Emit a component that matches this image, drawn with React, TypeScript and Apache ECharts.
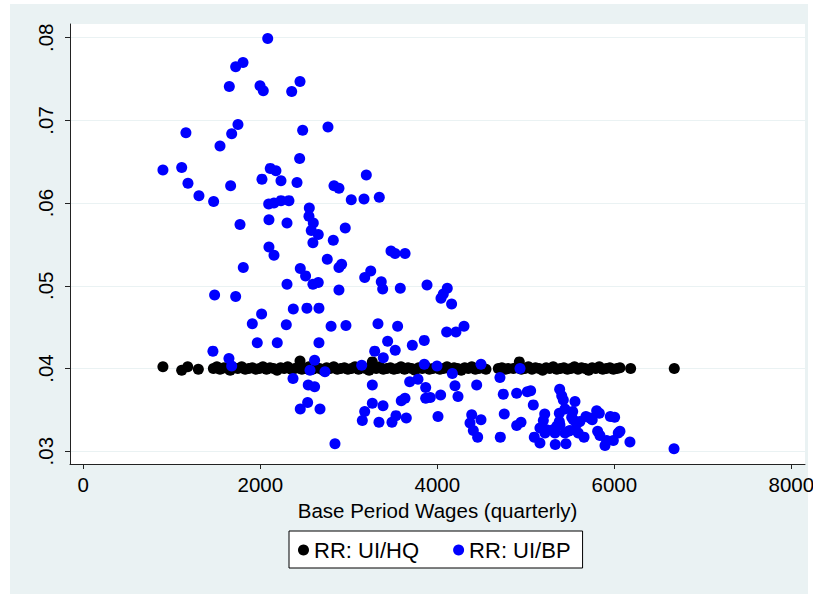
import React, { useEffect, useRef } from "react";
import * as echarts from "echarts";

// Axis ticks and labels
const xTicks = [0, 2000, 4000, 6000, 8000];
const yTicks = [0.03, 0.04, 0.05, 0.06, 0.07, 0.08];
const xTitle = "Base Period Wages (quarterly)";
const seriesNames = ["RR: UI/HQ", "RR: UI/BP"];

// Replacement rate relative to the high quarter: [wages, rate]
const hqPoints: [number, number][] = [
  [900, 0.0402], [1112, 0.0398], [1180, 0.0402], [1300, 0.0399],
  [1470, 0.04], [1510, 0.0402], [1545, 0.0399], [1590, 0.0401], [1630, 0.04], [1660, 0.0398],
  [1700, 0.0401], [1745, 0.04], [1790, 0.0402], [1830, 0.0399], [1870, 0.04], [1910, 0.0401],
  [1950, 0.0399], [1990, 0.04], [2030, 0.0402], [2070, 0.0399], [2110, 0.0401], [2150, 0.04],
  [2190, 0.0398], [2230, 0.0401], [2270, 0.04], [2310, 0.0402], [2350, 0.0399], [2390, 0.04],
  [2449, 0.0409], [2430, 0.0401], [2470, 0.0399], [2510, 0.04], [2550, 0.0402], [2590, 0.0399],
  [2630, 0.0401], [2670, 0.04], [2710, 0.0398], [2750, 0.0401], [2790, 0.04], [2830, 0.0402],
  [2870, 0.0399], [2910, 0.04], [2950, 0.0401], [2990, 0.0399], [3030, 0.04], [3070, 0.0402],
  [3110, 0.0399], [3150, 0.0401], [3190, 0.04], [3230, 0.0398], [3266, 0.0408], [3270, 0.0401],
  [3310, 0.04], [3350, 0.0402], [3390, 0.0399], [3430, 0.04], [3470, 0.0401], [3510, 0.0399],
  [3550, 0.04], [3590, 0.0402], [3630, 0.0399], [3670, 0.0401], [3710, 0.04], [3750, 0.0398],
  [3790, 0.0401], [3830, 0.04], [3870, 0.0402], [3910, 0.0399], [3950, 0.04], [3990, 0.0401],
  [4030, 0.0399], [4070, 0.04], [4110, 0.0402], [4150, 0.0399], [4190, 0.0401], [4230, 0.04],
  [4270, 0.0398], [4310, 0.0401], [4350, 0.04], [4390, 0.0402], [4430, 0.0399], [4470, 0.04],
  [4510, 0.0401], [4550, 0.0399],
  [4690, 0.04], [4730, 0.0401], [4770, 0.0399], [4800, 0.04],
  [4860, 0.04], [4900, 0.0401], [4927, 0.0408], [4950, 0.0399], [4990, 0.04], [5030, 0.0402],
  [5070, 0.0399], [5110, 0.0401], [5150, 0.04], [5190, 0.0398], [5230, 0.0401], [5270, 0.04],
  [5310, 0.0402], [5350, 0.0399], [5390, 0.04], [5430, 0.0401], [5470, 0.0399], [5510, 0.04],
  [5550, 0.0402], [5590, 0.0399], [5630, 0.0401], [5670, 0.04], [5710, 0.0398], [5750, 0.0401],
  [5790, 0.04], [5830, 0.0402], [5870, 0.0399], [5910, 0.04], [5950, 0.0401], [5990, 0.0399],
  [6030, 0.04], [6064, 0.0401], [6185, 0.04], [6678, 0.04],
];

// Replacement rate relative to base period wages: [wages, rate]
const bpPoints: [number, number][] = [
  [2084, 0.0799], [1805, 0.077], [1722, 0.0765], [1650, 0.0741], [1997, 0.0742], [2034, 0.0736],
  [2355, 0.0735], [2449, 0.0747], [1748, 0.0695], [1677, 0.0684], [1160, 0.0685], [1545, 0.0669],
  [2479, 0.0688], [2765, 0.0692], [900, 0.064], [1112, 0.0643], [1183, 0.0624], [1307, 0.0609],
  [1473, 0.0602], [1665, 0.0621], [2445, 0.0654], [2113, 0.0642], [2177, 0.0639], [2019, 0.0629],
  [2234, 0.0627], [2415, 0.0625], [2833, 0.0621], [2889, 0.0618], [3198, 0.0634], [3028, 0.0604],
  [3172, 0.0605], [3345, 0.0607], [2095, 0.0599], [2155, 0.06], [2234, 0.0603], [2324, 0.0603],
  [2554, 0.0594], [2550, 0.0584], [2599, 0.0576], [2576, 0.0567], [2655, 0.0562], [2595, 0.0552],
  [1771, 0.0574], [2098, 0.058], [2302, 0.0576], [2960, 0.057], [2825, 0.0555],
  [2098, 0.0547], [2155, 0.0537], [2757, 0.0532], [1808, 0.0522], [2452, 0.0521], [2512, 0.0512],
  [2302, 0.0502], [2595, 0.0502], [2655, 0.0504], [1484, 0.0489], [1722, 0.0487], [2015, 0.0466],
  [1910, 0.0454], [2373, 0.0472], [2527, 0.0473], [2663, 0.0473], [2294, 0.0453], [2800, 0.0451],
  [1966, 0.0431], [2192, 0.0431], [2663, 0.0431], [1465, 0.0421], [1646, 0.0412], [1677, 0.0403],
  [2614, 0.041], [2562, 0.0398], [2731, 0.0396], [2370, 0.0388], [2542, 0.038], [2614, 0.0378],
  [2535, 0.0359], [2452, 0.0351], [2675, 0.0351],
  [3477, 0.0542], [3523, 0.0539], [3636, 0.0539], [2889, 0.0522], [2919, 0.0526], [3180, 0.051],
  [3248, 0.0518], [3367, 0.0505], [3383, 0.0496], [3582, 0.0497], [2889, 0.0495], [3884, 0.0501],
  [4113, 0.0497], [4068, 0.049], [4042, 0.0485], [4162, 0.0478], [2968, 0.0452], [3330, 0.0454],
  [3552, 0.0451], [3439, 0.0433], [3718, 0.0428], [3853, 0.0434], [4106, 0.0444], [4211, 0.0444],
  [4302, 0.0451], [3293, 0.0421], [3390, 0.0413], [3525, 0.0422], [3146, 0.0404], [3853, 0.0405],
  [3997, 0.0403], [4494, 0.0405], [4170, 0.0394], [3688, 0.0384], [3782, 0.0387], [3869, 0.0377],
  [3266, 0.038], [4200, 0.0379], [4234, 0.0366], [4445, 0.038], [4038, 0.0368], [3869, 0.0364],
  [3921, 0.0365], [3593, 0.0361], [3635, 0.0364], [3266, 0.0358], [3387, 0.0355], [3180, 0.0348],
  [3153, 0.0337], [3341, 0.0335], [3488, 0.0335], [3533, 0.0343], [3650, 0.034], [4008, 0.0342],
  [4708, 0.0389], [4746, 0.0369], [4757, 0.0345], [4389, 0.0344], [4370, 0.0334], [4407, 0.0325],
  [4456, 0.0317], [4494, 0.0338], [4712, 0.0317], [2844, 0.0309],
  [4935, 0.04], [4897, 0.037], [5017, 0.0372], [5055, 0.0373], [5085, 0.0356], [4897, 0.0331],
  [4946, 0.0335], [5383, 0.0375], [5406, 0.0367], [5424, 0.0362], [5556, 0.036], [5214, 0.0345],
  [5198, 0.0337], [5379, 0.0346], [5443, 0.0351], [5530, 0.0348], [5519, 0.0341], [5379, 0.0336],
  [5349, 0.033], [5236, 0.0326], [5575, 0.0333], [5612, 0.0336], [5680, 0.0342], [5751, 0.0338],
  [5801, 0.0349], [5831, 0.0346], [5955, 0.0342], [6004, 0.0341], [5308, 0.0326], [5443, 0.0322],
  [5499, 0.0325], [5812, 0.0324], [5838, 0.0319], [6045, 0.0322], [5989, 0.0313], [5658, 0.0317],
  [5096, 0.0317], [5160, 0.031], [5333, 0.0308], [5454, 0.0309], [5895, 0.0307], [5914, 0.0313],
  [6177, 0.0311], [6675, 0.0303], [5160, 0.0328], [5217, 0.0322], [5330, 0.0322], [5537, 0.0338],
  [5386, 0.0332], [5480, 0.0324], [5593, 0.0322], [5725, 0.034], [6064, 0.0324],
];

const FONT = "'Liberation Sans', Arial, Helvetica, sans-serif";
const AXIS_COLOR = "#222";
const REGION_COLOR = "#eaf2f3";

export default function App() {
  const ref = useRef<HTMLDivElement>(null);

  useEffect(() => {
    if (!ref.current) return;
    const chart = echarts.init(ref.current, null, { renderer: "svg" });
    chart.setOption({
      animation: false,
      backgroundColor: "#ffffff",
      textStyle: { fontFamily: FONT },
      // outer graph region
      graphic: [
        {
          type: "rect",
          z: -10,
          silent: true,
          shape: { x: 10, y: 4, width: 798, height: 590 },
          style: { fill: REGION_COLOR },
        },
      ],
      grid: {
        left: 70,
        top: 24,
        width: 735,
        height: 440,
        show: true,
        backgroundColor: "#ffffff",
        borderWidth: 0,
        outerBoundsMode: "none",
        containLabel: false,
      },
      xAxis: {
        type: "value",
        min: -150,
        max: 8155,
        name: xTitle,
        nameLocation: "middle",
        nameGap: 32,
        nameTextStyle: { fontSize: 20.5, color: "#000", fontFamily: FONT },
        axisLine: { show: true, onZero: false, lineStyle: { color: AXIS_COLOR, width: 1 } },
        axisTick: { show: true, customValues: xTicks, length: 5, lineStyle: { color: AXIS_COLOR } },
        axisLabel: {
          customValues: xTicks,
          fontSize: 20.5,
          color: "#000",
          margin: 10,
          fontFamily: FONT,
          hideOverlap: false,
          formatter: (v: number) => String(v),
        },
        splitLine: { show: false },
      },
      yAxis: {
        type: "value",
        min: 0.02845,
        max: 0.08166,
        axisLine: { show: true, onZero: false, lineStyle: { color: AXIS_COLOR, width: 1 } },
        axisTick: { show: true, customValues: yTicks, length: 5, lineStyle: { color: AXIS_COLOR } },
        axisLabel: {
          customValues: yTicks,
          rotate: 90,
          fontSize: 20.5,
          color: "#000",
          margin: 14,
          fontFamily: FONT,
          formatter: (v: number) => "." + String(Math.round(v * 100)).padStart(2, "0"),
        },
        splitLine: { show: true, lineStyle: { color: REGION_COLOR, width: 1 } },
      },
      legend: {
        left: 289,
        top: 531,
        orient: "horizontal",
        icon: "circle",
        itemWidth: 11,
        itemHeight: 11,
        itemGap: 34,
        selectedMode: false,
        borderColor: "#000",
        borderWidth: 1,
        padding: [8, 12, 7, 9],
        backgroundColor: "#ffffff",
        textStyle: { fontSize: 22, color: "#000", fontFamily: FONT },
        data: seriesNames,
      },
      series: [
        {
          type: "scatter",
          name: seriesNames[0],
          data: hqPoints,
          symbolSize: 11,
          itemStyle: { color: "#000000", opacity: 1 },
        },
        {
          type: "scatter",
          name: seriesNames[1],
          data: bpPoints,
          symbolSize: 11,
          itemStyle: { color: "#0000ff", opacity: 1 },
        },
      ],
    });
    return () => chart.dispose();
  }, []);

  return (
    <div
      ref={ref}
      style={{ position: "fixed", left: 0, top: 0, width: 813, height: 594, background: "#ffffff" }}
    />
  );
}
